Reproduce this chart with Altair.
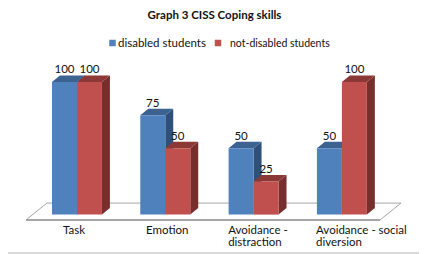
import altair as alt
import pandas as pd

categories = ["Task", "Emotion", "Avoidance -\ndistraction", "Avoidance - social\ndiversion"]
disabled = [100, 75, 50, 50]
not_disabled = [100, 50, 25, 100]
series_names = ["disabled students", "not-disabled students"]
title_text = "Graph 3 CISS Coping skills"

# geometry of the drawing, in scale units
BAR_W = 0.283
DEPTH_X = 0.09
DEPTH_Y = 4.9
FONT = "Lato"
GREY = "#a6a6a6"

x_scale = alt.Scale(domain=[-0.498, 4.156], range=[0, 411], nice=False, zero=False)
y_scale = alt.Scale(domain=[-29.7, 155.8], range=[246, 0], nice=False, zero=False)
X = lambda f="x": alt.X(f, type="quantitative", scale=x_scale, axis=None)
Y = lambda f="y": alt.Y(f, type="quantitative", scale=y_scale, axis=None)


def faces(values, slot):
    front, side, top, labels = [], [], [], []
    for i, v in enumerate(values):
        x0 = i + slot * BAR_W
        x1 = x0 + BAR_W
        front.append({"x": x0, "x2": x1, "y": v, "y2": 0})
        side += [
            {"g": i, "x": x1, "y": v, "y2": 0},
            {"g": i, "x": x1 + DEPTH_X, "y": v + DEPTH_Y, "y2": DEPTH_Y},
        ]
        top += [
            {"g": i, "x": x0, "y": v, "y2": v},
            {"g": i, "x": x0 + DEPTH_X, "y": v + DEPTH_Y, "y2": v},
            {"g": i, "x": x1, "y": v + DEPTH_Y, "y2": v},
            {"g": i, "x": x1 + DEPTH_X, "y": v + DEPTH_Y, "y2": v + DEPTH_Y},
        ]
        labels.append({"x": (x0 + x1) / 2, "y": v, "t": str(v)})
    return front, side, top, labels


def series_layers(values, slot, color, side_color, top_color):
    front, side, top, _ = faces(values, slot)
    return [
        alt.Chart(pd.DataFrame(side)).mark_area(orient="vertical", color=side_color).encode(
            x=X(), y=Y(), y2="y2", detail="g:N"),
        alt.Chart(pd.DataFrame(top)).mark_area(orient="vertical", color=top_color).encode(
            x=X(), y=Y(), y2="y2", detail="g:N"),
        alt.Chart(pd.DataFrame(front)).mark_bar(color=color).encode(
            x=X(), x2="x2", y=Y(), y2="y2"),
    ]


floor = pd.DataFrame({
    "x": [-0.294, -0.057, 3.952, 3.715, -0.294],
    "y": [-4.0, 8.7, 8.7, -4.0, -4.0],
    "o": [0, 1, 2, 3, 4],
})
floor_front = pd.DataFrame({"x": [-0.294, 3.715], "y": [-4.0, -4.0]})

layers = [
    alt.Chart(floor).mark_line(color=GREY, strokeWidth=1).encode(x=X(), y=Y(), order="o:Q"),
    alt.Chart(floor_front).mark_line(color=GREY, strokeWidth=2).encode(x=X(), y=Y()),
]
layers += series_layers(disabled, 0, "#4f81bd", "#2f5179", "#3b6290")
layers += series_layers(not_disabled, 1, "#c0504d", "#772f2d", "#8c3836")

labels = faces(disabled, 0)[3] + faces(not_disabled, 1)[3]
layers.append(
    alt.Chart(pd.DataFrame(labels)).mark_text(
        font=FONT, fontSize=11.5, color="#111111", baseline="alphabetic", dy=-8.5
    ).encode(x=X(), y=Y(), text="t:N")
)

# category labels, left aligned at their measured starts
cat_x = [0.125, 1.066, 1.995, 2.99]
cat_df = pd.DataFrame({"x": cat_x, "y": [-14.5] * 4, "t": categories})
layers.append(
    alt.Chart(cat_df).mark_text(
        font=FONT, fontSize=11.5, color="#111111", align="left", baseline="alphabetic",
        lineBreak="\n", lineHeight=12,
    ).encode(x=X(), y=Y(), text="t:N")
)

# legend
swatch_x = [104.5, 210]
text_x = [110, 222]
legend_sizes = [11.5, 10.5]
swatch_colors = ["#4f81bd", "#c0504d"]
for sx, tx, fs, col, name in zip(swatch_x, text_x, legend_sizes, swatch_colors, series_names):
    layers.append(
        alt.Chart(pd.DataFrame({"t": [name]})).mark_square(size=42, color=col, opacity=1).encode(
            x=alt.value(sx), y=alt.value(35))
    )
    layers.append(
        alt.Chart(pd.DataFrame({"t": [name]})).mark_text(
            font=FONT, fontSize=fs, color="#111111", align="left", baseline="alphabetic"
        ).encode(x=alt.value(tx), y=alt.value(39), text="t:N")
    )

# chart title
layers.append(
    alt.Chart(pd.DataFrame({"t": [title_text]})).mark_text(
        font=FONT, fontSize=11.5, fontWeight="bold", color="#111111",
        align="center", baseline="alphabetic",
    ).encode(x=alt.value(206.5), y=alt.value(11), text="t:N")
)

# bottom edge of the picture frame (the only edge that falls inside the drawing)
layers.append(
    alt.Chart(pd.DataFrame({"a": [0]})).mark_rule(color="#d9d9d9", strokeWidth=2).encode(
        y=alt.value(245), x=alt.value(0), x2=alt.value(411))
)

chart = (
    alt.layer(*layers)
    .properties(
        width=411,
        height=246,
        padding=0,
        autosize=alt.AutoSizeParams(type="none"),
        background="white",
    )
    .configure_view(stroke=None)
)

chart.save("out.html", embed_options={"renderer": "svg", "actions": False})
